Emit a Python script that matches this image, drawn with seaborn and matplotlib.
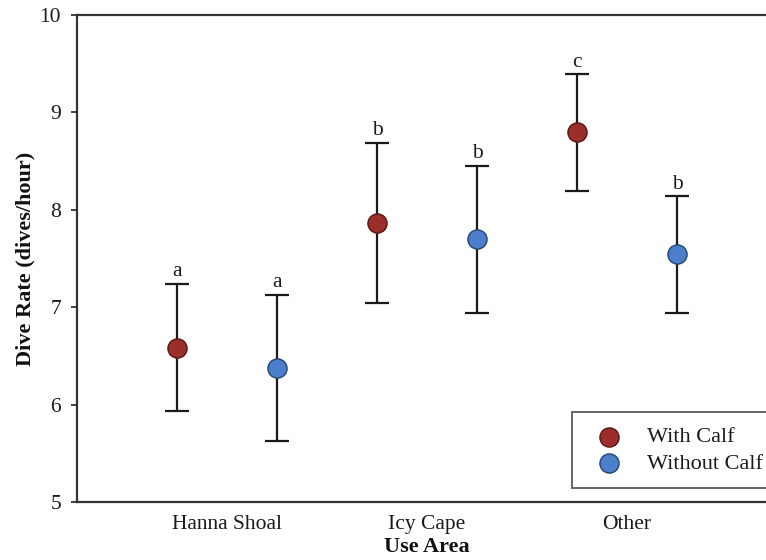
import matplotlib
matplotlib.use("Agg")
import matplotlib.pyplot as plt
import seaborn as sns
import pandas as pd
import numpy as np

areas = ["Hanna Shoal", "Icy Cape", "Other"]
groups = ["With Calf", "Without Calf"]
means_with = [6.58, 7.86, 8.80]
lower_with = [5.93, 7.04, 8.19]
upper_with = [7.24, 8.69, 9.39]
means_without = [6.38, 7.70, 7.55]
lower_without = [5.63, 6.94, 6.94]
upper_without = [7.13, 8.45, 8.14]
letters_with = ["a", "b", "c"]
letters_without = ["a", "b", "b"]

sns.set_theme(style="white")
plt.rcParams["font.family"] = ["Liberation Serif", "DejaVu Serif"]

colors = {"With Calf": "#9b2d2b", "Without Calf": "#4b7fcb"}
edges = {"With Calf": "#5a1414", "Without Calf": "#23456f"}
offsets = {"With Calf": -0.25, "Without Calf": 0.25}

rows = []
for g, m, lo, hi, lt in [("With Calf", means_with, lower_with, upper_with, letters_with),
                         ("Without Calf", means_without, lower_without, upper_without, letters_without)]:
    for i, a in enumerate(areas):
        rows.append(dict(area=a, group=g, pos=i + offsets[g], mean=m[i], lo=lo[i], hi=hi[i], letter=lt[i]))
df = pd.DataFrame(rows)

W, H = 766, 560
fig = plt.figure(figsize=(W / 100, H / 100), dpi=100)
ax = fig.add_axes([77 / W, (H - 502) / H, 700 / W, (502 - 15) / H])

for g in groups:
    sub = df[df.group == g]
    ax.errorbar(sub["pos"], sub["mean"],
                yerr=[sub["mean"] - sub["lo"], sub["hi"] - sub["mean"]],
                fmt="none", ecolor="#1a1a1a", elinewidth=1.6, capsize=8.5, capthick=1.6, zorder=2)
    sns.scatterplot(data=sub, x="pos", y="mean", color=colors[g], s=190, label=g,
                    edgecolor=edges[g], linewidth=1.0, zorder=3, ax=ax)

for _, r in df.iterrows():
    ax.annotate(r["letter"], (r["pos"], r["hi"]), xytext=(0, 5.5), textcoords="offset points",
                ha="center", va="baseline", fontsize=15.5, color="#1a1a1a")

ax.set_xlim(-0.75, 2.75)
ax.set_ylim(5, 10)
ax.set_xticks(range(len(areas)))
ax.set_xticklabels(areas)
ax.set_yticks([5, 6, 7, 8, 9, 10])
ax.tick_params(axis="y", length=4.5, width=1.3, color="#333333", labelsize=15.5, labelcolor="#1a1a1a", pad=7, left=True)
ax.tick_params(axis="x", length=0, labelsize=15.5, labelcolor="#1a1a1a", pad=9.5)
ax.set_xlabel("Use Area", fontsize=16, fontweight="bold", color="#111111", labelpad=2)
ax.set_ylabel("Dive Rate (dives/hour)", fontsize=16, fontweight="bold", color="#111111", labelpad=3)

for s in ["left", "top", "bottom"]:
    ax.spines[s].set_visible(True)
    ax.spines[s].set_color("#333333")
    ax.spines[s].set_linewidth(1.6)
ax.spines["right"].set_visible(False)

handles, labels = ax.get_legend_handles_labels()
leg = ax.legend(handles, labels, loc="lower right", bbox_to_anchor=(1.0, 14 / 487),
                borderaxespad=0, frameon=True, fancybox=False, fontsize=16,
                borderpad=0.65, labelspacing=0.25, handlelength=2.0, handletextpad=0.7,
                markerscale=1.0)
leg.get_frame().set_edgecolor("#333333")
leg.get_frame().set_linewidth(1.3)
for t in leg.get_texts():
    t.set_color("#1a1a1a")

fig.savefig("out.png", dpi=100)
